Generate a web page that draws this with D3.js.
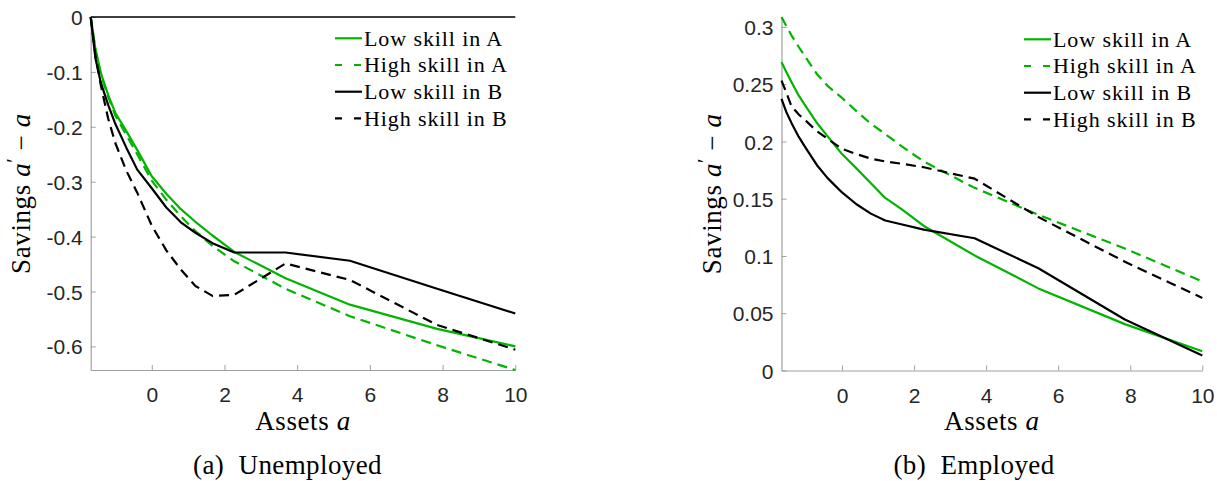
<!DOCTYPE html>
<html>
<head>
<meta charset="utf-8">
<script src="https://cdn.jsdelivr.net/npm/d3@7"></script>
<style>
  html, body { margin: 0; padding: 0; background: #fff; }
  svg { display: block; }
  text { white-space: pre; }
</style>
</head>
<body>
<svg id="chart" width="1217" height="481"></svg>
<script>
// ---------------- DATA ----------------
const assetGrid = [-1.68, -1.55, -1.4, -1.2, -1.0, -0.7, -0.4, 0, 0.4, 0.8, 1.2, 1.67, 2.27, 3.68, 5.45, 7.85, 10];

// (a) Unemployed
const unempLowA  = [0, -0.058, -0.102, -0.142, -0.175, -0.208, -0.242, -0.29, -0.322, -0.350, -0.373, -0.398, -0.428, -0.476, -0.524, -0.568, -0.600];
const unempHighA = [0, -0.060, -0.105, -0.145, -0.180, -0.215, -0.250, -0.298, -0.333, -0.363, -0.390, -0.417, -0.445, -0.495, -0.545, -0.598, -0.643];
const unempLowB  = [0, -0.075, -0.120, -0.160, -0.195, -0.238, -0.278, -0.312, -0.347, -0.374, -0.393, -0.412, -0.429, -0.429, -0.444, -0.495, -0.540];
const unempHighB = [0, -0.070, -0.125, -0.185, -0.230, -0.280, -0.320, -0.380, -0.425, -0.460, -0.490, -0.508, -0.506, -0.449, -0.479, -0.561, -0.606];

// (b) Employed
const empLowA  = [0.2693, 0.2608, 0.2517, 0.2400, 0.2305, 0.2163, 0.2045, 0.1890, 0.1765, 0.1635, 0.1507, 0.1405, 0.1262, 0.1005, 0.0717, 0.0405, 0.0168];
const empHighA = [0.3087, 0.3010, 0.2925, 0.2825, 0.2730, 0.2590, 0.2485, 0.2380, 0.2265, 0.2155, 0.2065, 0.1955, 0.1825, 0.1595, 0.1360, 0.1065, 0.0778];
const empLowB  = [0.2373, 0.2260, 0.2160, 0.2040, 0.1940, 0.1795, 0.1680, 0.1555, 0.1452, 0.1370, 0.1310, 0.1275, 0.1230, 0.1155, 0.0893, 0.0445, 0.0130];
const empHighB = [0.2532, 0.2430, 0.2305, 0.2235, 0.2180, 0.2090, 0.2024, 0.1935, 0.1890, 0.1850, 0.1825, 0.1805, 0.1775, 0.1675, 0.1340, 0.0950, 0.0634];

const seriesNames = ["Low skill in A", "High skill in A", "Low skill in B", "High skill in B"];
const xTicks = [0, 2, 4, 6, 8, 10];
const yTicksUnemp = [0, -0.1, -0.2, -0.3, -0.4, -0.5, -0.6];
const yTicksEmp = [0, 0.05, 0.1, 0.15, 0.2, 0.25, 0.3];
const xDomain = [-1.68, 10];
const yDomainUnemp = [-0.643, 0];
const yDomainEmp = [0, 0.3087];
const captions = ["(a)  Unemployed", "(b)  Employed"];

// ---------------- STYLE ----------------
const GREEN = "rgb(0,180,0)";
const seriesStyle = [
  {color: GREEN, dash: null},
  {color: GREEN, dash: "10,6"},
  {color: "#000", dash: null},
  {color: "#000", dash: "10,6"}
];
const SERIF = "Liberation Serif, DejaVu Serif, Noto Serif, Times New Roman, serif";
const SANS = "Liberation Sans, Arial, Helvetica, sans-serif";

const svg = d3.select("#chart");

function panel(cfg) {
  const x = d3.scaleLinear().domain(xDomain).range([cfg.left, cfg.right]);
  const y = d3.scaleLinear().domain(cfg.yDomain).range([cfg.bottom, cfg.top]);
  const g = svg.append("g");

  const xAxis = d3.axisBottom(x).tickValues(xTicks).tickSize(-5).tickSizeOuter(0).tickFormat(d3.format("d"));
  const gx = g.append("g").attr("transform", `translate(0,${cfg.bottom})`).call(xAxis);
  const yAxis = d3.axisLeft(y).tickValues(cfg.yTicks).tickSize(-5).tickSizeOuter(0).tickFormat(cfg.fmt);
  const gy = g.append("g").attr("transform", `translate(${cfg.left},0)`).call(yAxis);
  [gx, gy].forEach(a => {
    a.attr("font-family", SANS).attr("font-size", 21);
    a.select(".domain").attr("stroke", "#a0a0a0").attr("stroke-width", 1.2);
    a.selectAll(".tick line").attr("stroke", "#a0a0a0").attr("stroke-width", 1);
    a.selectAll(".tick text").attr("fill", "#262626");
  });
  gx.selectAll(".tick text").attr("dy", null).attr("y", 32);
  gy.selectAll(".tick text").attr("x", -8).attr("dy", "0.36em");

  if (cfg.zeroLine) {
    g.append("line")
      .attr("x1", x(xDomain[0])).attr("x2", x(xDomain[1]))
      .attr("y1", y(0)).attr("y2", y(0))
      .attr("stroke", "#000").attr("stroke-width", 1.3);
  }

  const line = d3.line().x((d, i) => x(assetGrid[i])).y(d => y(d));
  cfg.series.forEach((s, k) => {
    g.append("path").datum(s)
      .attr("d", line)
      .attr("fill", "none")
      .attr("stroke", seriesStyle[k].color)
      .attr("stroke-width", 2.2)
      .attr("stroke-linejoin", "round")
      .attr("stroke-dasharray", seriesStyle[k].dash);
  });

  seriesNames.forEach((name, k) => {
    const ly = cfg.legTop + k * 26.7;
    g.append("line")
      .attr("x1", cfg.legX).attr("x2", cfg.legX + 27)
      .attr("y1", ly).attr("y2", ly)
      .attr("stroke", seriesStyle[k].color).attr("stroke-width", 2.2)
      .attr("stroke-dasharray", seriesStyle[k].dash ? "7,12" : null);
    g.append("text")
      .attr("x", cfg.legX + 29).attr("y", ly).attr("dy", "0.33em")
      .style("font-family", SERIF).style("font-size", "22px").attr("letter-spacing", 0.9)
      .attr("fill", "#000")
      .text(name);
  });

  const xl = g.append("text")
    .attr("x", (cfg.left + cfg.right) / 2).attr("y", 430)
    .attr("text-anchor", "middle")
    .style("font-family", SERIF).style("font-size", "27px").attr("letter-spacing", 0.6).attr("fill", "#000");
  xl.append("tspan").text("Assets ");
  xl.append("tspan").attr("font-style", "italic").text("a");

  const yl = g.append("text")
    .attr("transform", `translate(${cfg.left - 61},${(cfg.top + cfg.bottom) / 2}) rotate(-90)`)
    .attr("text-anchor", "middle")
    .style("font-family", SERIF).style("font-size", "27px").attr("letter-spacing", 0.6).attr("fill", "#000");
  yl.append("tspan").text("Savings ");
  yl.append("tspan").attr("font-style", "italic").text("a");
  yl.append("tspan").style("font-size", "20px").attr("dy", -9).text("′");
  yl.append("tspan").attr("dy", 9).text(" − ");
  yl.append("tspan").attr("font-style", "italic").text("a");

  g.append("text")
    .attr("x", cfg.capX).attr("y", 474)
    .attr("text-anchor", "middle")
    .style("font-family", SERIF).style("font-size", "27px").attr("letter-spacing", 0.4).attr("fill", "#000")
    .text(cfg.caption);
}

panel({
  left: 90.7, right: 515.3, top: 17, bottom: 370,
  yDomain: yDomainUnemp, yTicks: yTicksUnemp, fmt: d => d === 0 ? "0" : d3.format(".1f")(d).replace("−", "-"),
  series: [unempLowA, unempHighA, unempLowB, unempHighB],
  zeroLine: true, legX: 335, legTop: 38.3, caption: captions[0], capX: 287.5
});

panel({
  left: 781.5, right: 1202.3, top: 17, bottom: 370.5,
  yDomain: yDomainEmp, yTicks: yTicksEmp, fmt: d => d === 0 ? "0" : String(d),
  series: [empLowA, empHighA, empLowB, empHighB],
  zeroLine: false, legX: 1024, legTop: 39.3, caption: captions[1], capX: 974
});
</script>
</body>
</html>
